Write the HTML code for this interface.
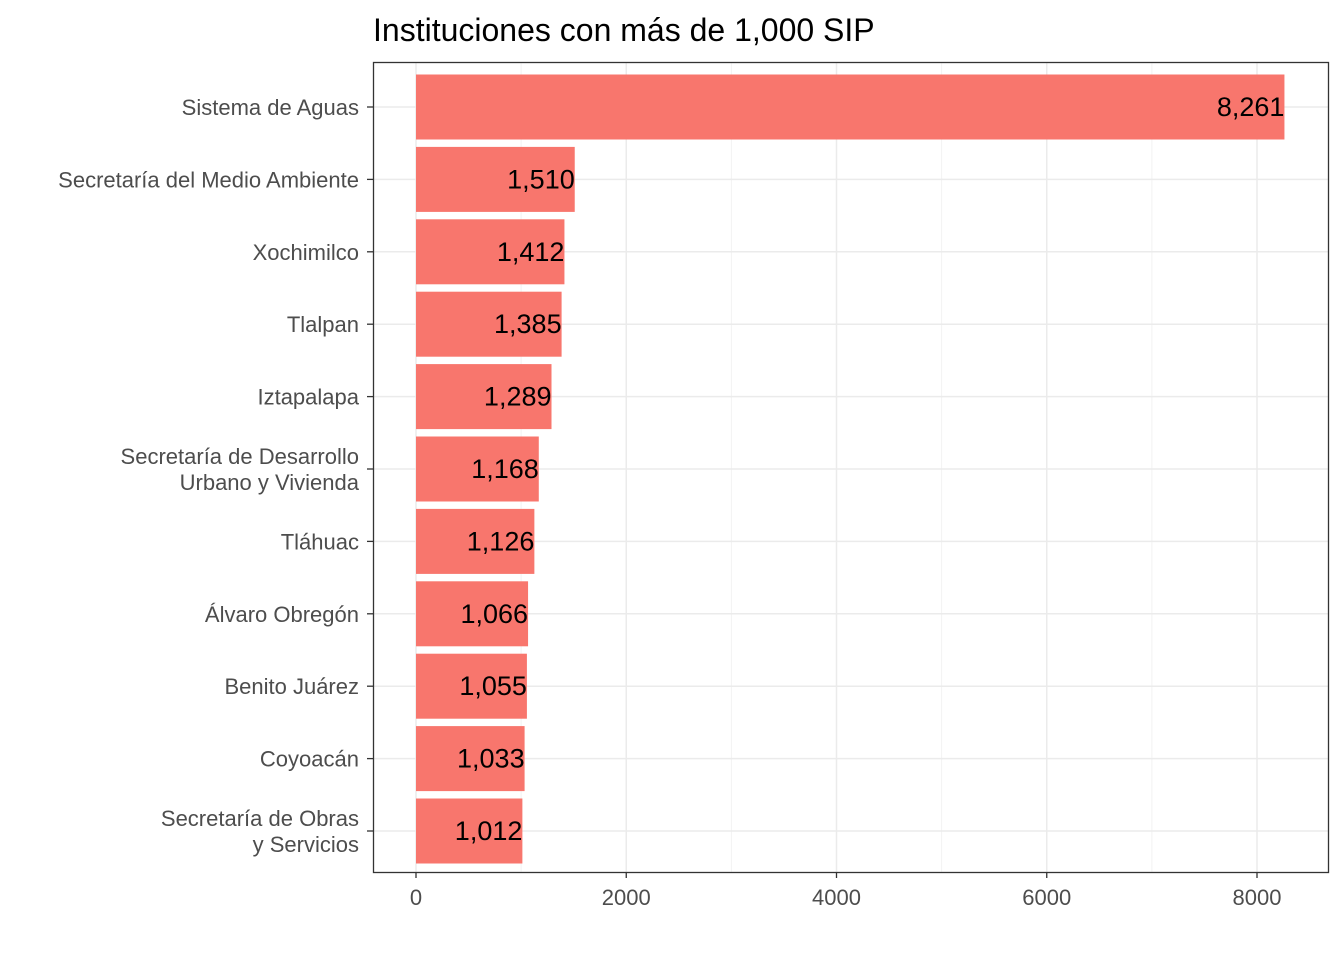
<!DOCTYPE html>
<html><head><meta charset="utf-8"><style>
body{margin:0;background:#fff;}
svg{display:block;font-family:"Liberation Sans",Arial,sans-serif;}
</style></head><body>
<svg id="chart" width="1344" height="960" viewBox="0 0 1344 960">
<text x="373" y="41" font-size="32" fill="#000">Instituciones con más de 1,000 SIP</text>
<g id="grid"></g><g id="bars"></g><g id="labels"></g><g id="axes"></g>
<rect x="373.5" y="62.5" width="955" height="810" fill="none" stroke="#333" stroke-width="1.3"/>
</svg>
<script>
const categories=[["Sistema de Aguas"],["Secretaría del Medio Ambiente"],["Xochimilco"],["Tlalpan"],["Iztapalapa"],["Secretaría de Desarrollo","Urbano y Vivienda"],["Tláhuac"],["Álvaro Obregón"],["Benito Juárez"],["Coyoacán"],["Secretaría de Obras","y Servicios"]];
const values=[8261,1510,1412,1385,1289,1168,1126,1066,1055,1033,1012];
const valueLabels=["8,261","1,510","1,412","1,385","1,289","1,168","1,126","1,066","1,055","1,033","1,012"];
const xTicks=[0,2000,4000,6000,8000];
const xMinor=[1000,3000,5000,7000];
const NS="http://www.w3.org/2000/svg";
const x0=416,xs=841/8000;
const X=v=>x0+v*xs;
const step=72.4,Y=i=>107+i*step,bh=65;
function mk(tag,attrs,parent,text){const e=document.createElementNS(NS,tag);for(const k in attrs)e.setAttribute(k,attrs[k]);if(text!==undefined)e.textContent=text;parent.appendChild(e);return e;}
const grid=document.getElementById('grid'),bars=document.getElementById('bars'),labels=document.getElementById('labels'),axes=document.getElementById('axes');
xMinor.forEach(v=>{const l=mk('line',{x1:X(v),x2:X(v),y1:62,y2:872,stroke:'#f2f2f2','stroke-width':1},grid);

});
xTicks.forEach(v=>{const l=mk('line',{x1:X(v),x2:X(v),y1:62,y2:872,stroke:'#ebebeb','stroke-width':1.5},grid);


const t=mk('line',{x1:X(v),x2:X(v),y1:872,y2:878,stroke:'#333','stroke-width':1.3},axes);


const tl=mk('text',{x:X(v),y:905,'font-size':22,fill:'#4d4d4d','text-anchor':'middle'},axes,String(v));

});
categories.forEach((c,i)=>{const y=Y(i);
const g=mk('line',{x1:373,x2:1329,y1:y,y2:y,stroke:'#ebebeb','stroke-width':1.5},grid);


const r=mk('rect',{x:X(0),y:y-bh/2,width:X(values[i])-X(0),height:bh,fill:'#F8766D'},bars);


const vl=mk('text',{x:X(values[i]),y:y+9,'font-size':27,fill:'#000','text-anchor':'end'},labels,valueLabels[i]);


const t=mk('line',{x1:367,x2:373,y1:y,y2:y,stroke:'#333','stroke-width':1.3},axes);


const n=c.length;
c.forEach((line,j)=>{const ty=y+8+(j-(n-1)/2)*26;
const tl=mk('text',{x:359,y:ty,'font-size':22,fill:'#4d4d4d','text-anchor':'end'},axes,line);

});
});
</script>
</body></html>
